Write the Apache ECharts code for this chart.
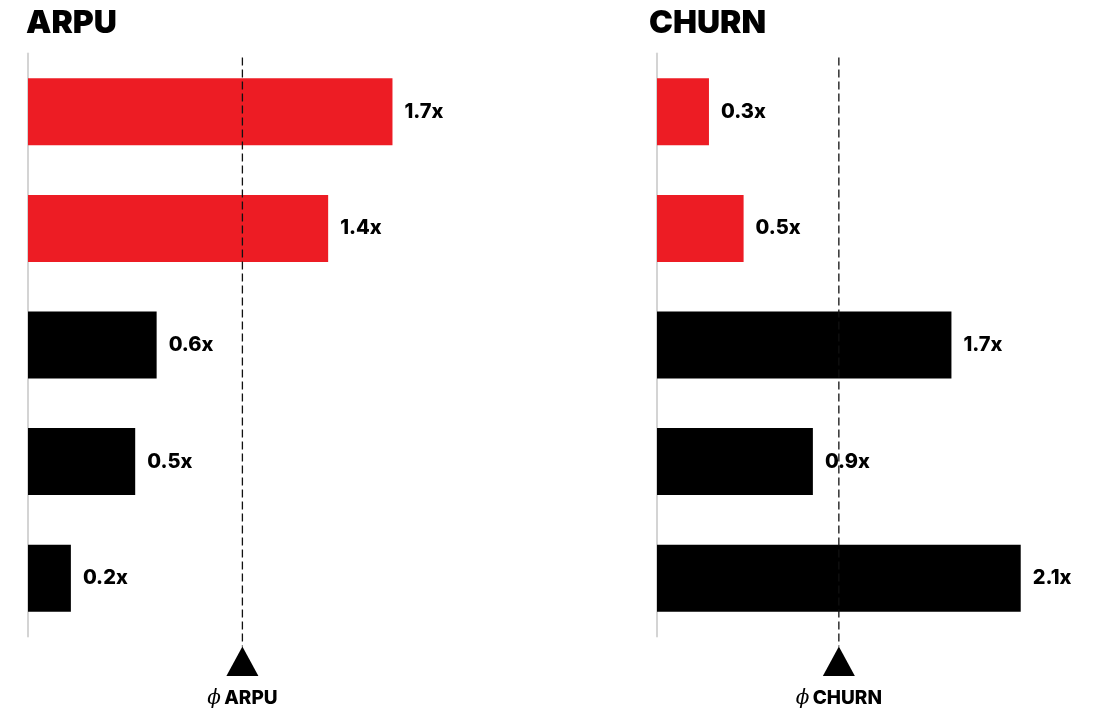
<!DOCTYPE html>
<html>
<head>
<meta charset="utf-8">
<style>
  html, body { margin: 0; padding: 0; background: #fff; }
  #chart { width: 1109px; height: 715px; }
</style>
<script src="https://cdn.jsdelivr.net/npm/echarts@6/dist/echarts.min.js"></script>
</head>
<body>
<div id="chart"></div>
<script>
// ---- data ----
const segments = ['Segment 1', 'Segment 2', 'Segment 3', 'Segment 4', 'Segment 5'];
const arpuValues = [1.7, 1.4, 0.6, 0.5, 0.2];
const churnValues = [0.3, 0.5, 1.7, 0.9, 2.1];
const arpuAverage = 1.0;
const churnAverage = 1.05;
const panelTitles = ['ARPU', 'CHURN'];
const averageNames = ['ARPU', 'CHURN'];

// ---- styling ----
const RED = '#ED1C24';
const BLACK = '#000000';
const barColors = [RED, RED, BLACK, BLACK, BLACK];
const FONT = 'Inter, "Noto Sans", sans-serif';

const chart = echarts.init(document.getElementById('chart'), null, { renderer: 'canvas' });

function barSeries(idx, values) {
  return {
    type: 'bar',
    xAxisIndex: idx,
    yAxisIndex: idx,
    barWidth: 67,
    data: values.map((v, i) => ({ value: v, itemStyle: { color: barColors[i] } })),
    label: {
      show: true,
      position: 'right',
      distance: 12,
      formatter: p => p.value.toFixed(1) + 'x',
      color: '#000',
      fontFamily: FONT,
      fontWeight: 800,
      fontSize: 20
    },
    silent: true,
    z: 2
  };
}

function avgSeries(idx, avg, name) {
  return {
    type: 'custom',
    xAxisIndex: idx,
    yAxisIndex: idx,
    data: [[avg, 0]],
    encode: { x: 0, y: 1 },
    clip: false,
    silent: true,
    z: 5,
    renderItem: function (params, api) {
      const x = api.coord([api.value(0), 0])[0];
      const cs = params.coordSys;
      const bottom = cs.y + cs.height;
      return {
        type: 'group',
        children: [
          {
            type: 'line',
            shape: { x1: x, y1: cs.y + 4, x2: x, y2: bottom + 10 },
            style: { stroke: '#111', lineWidth: 1.3, lineDash: [8, 4] }
          },
          {
            type: 'polygon',
            shape: { points: [[x, bottom + 10], [x + 16, bottom + 39.5], [x - 16, bottom + 39.5]] },
            style: { fill: '#000' }
          },
          {
            type: 'text',
            style: {
              text: '{p|ϕ} {t|' + name + '}',
              x: x,
              y: bottom + 62,
              align: 'center',
              verticalAlign: 'middle',
              rich: {
                p: { fontFamily: '"DejaVu Serif", serif', fontStyle: 'italic', fontSize: 20, fill: '#000' },
                t: { fontFamily: FONT, fontWeight: 800, fontSize: 19, fill: '#000' }
              }
            }
          }
        ]
      };
    }
  };
}

const option = {
  backgroundColor: '#fff',
  animation: false,
  title: [
    { text: panelTitles[0], left: 21, top: 2, textStyle: { fontFamily: FONT, fontWeight: 900, fontSize: 32, color: '#000' } },
    { text: panelTitles[1], left: 644, top: 2, textStyle: { fontFamily: FONT, fontWeight: 900, fontSize: 32, color: '#000' } }
  ],
  grid: [
    { left: 28, top: 53.5, width: 536, height: 583 },
    { left: 657, top: 53.5, width: 433, height: 583 }
  ],
  xAxis: [
    { gridIndex: 0, type: 'value', min: 0, max: 2.5, show: false },
    { gridIndex: 1, type: 'value', min: 0, max: 2.5, show: false }
  ],
  yAxis: [0, 1].map(i => ({
    gridIndex: i,
    type: 'category',
    data: segments,
    inverse: true,
    offset: 1,
    axisLine: { show: true, lineStyle: { color: '#d4d4d4', width: 2 } },
    axisTick: { show: false },
    axisLabel: { show: false },
    splitLine: { show: false }
  })),
  series: [
    barSeries(0, arpuValues),
    barSeries(1, churnValues),
    avgSeries(0, arpuAverage, averageNames[0]),
    avgSeries(1, churnAverage, averageNames[1])
  ]
};

chart.setOption(option);
</script>
</body>
</html>
